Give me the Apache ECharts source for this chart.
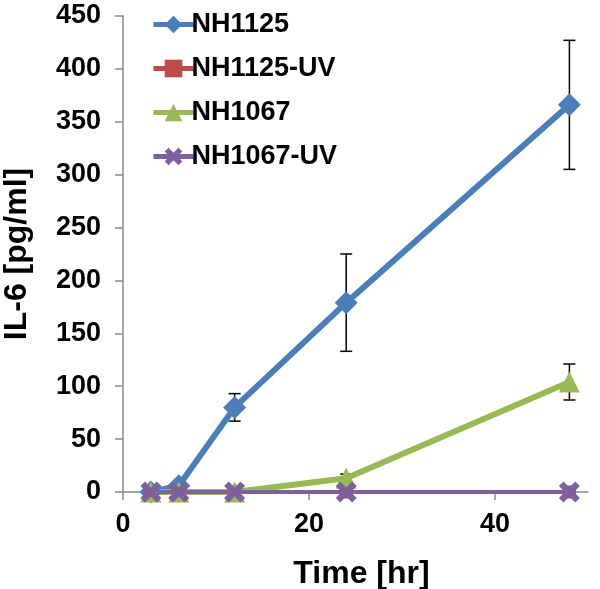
<!DOCTYPE html>
<html><head><meta charset="utf-8">
<script src="https://cdn.jsdelivr.net/npm/echarts@6/dist/echarts.min.js"></script>
<style>html,body{margin:0;padding:0;background:#fff}#c{width:600px;height:589px}</style>
</head><body><div id="c"></div>
<script>
const times = [3, 6, 12, 24, 48];
const nh1125 = [0, 6, 80, 179, 366];
const nh1125uv = [0, 0, 0, 0, 0];
const nh1067 = [0, 0, 0, 13, 104];
const nh1067uv = [0, 0, 0, 0, 0];
const nh1125Err = [0, 0, 13, 46, 61];
const nh1067Err = [0, 0, 0, 4, 17];
const seriesNames = ['NH1125', 'NH1125-UV', 'NH1067', 'NH1067-UV'];
const xTicks = [0, 20, 40];

const FONT = '"Liberation Sans", Arial, Helvetica, sans-serif';
const colors = ['#4A7EBB', '#BE4B48', '#98B954', '#7D60A0'];
const xPath = 'path://M0,2.2 L2.2,0 L5,2.8 L7.8,0 L10,2.2 L7.2,5 L10,7.8 L7.8,10 L5,7.2 L2.2,10 L0,7.8 L2.8,5 Z';

function pts(vals){ return times.map((t,i)=>[t, vals[i]]); }
function errData(vals, errs){
  const out = [];
  times.forEach((t,i)=>{ if (errs[i] > 0) out.push([t, vals[i]-errs[i], vals[i]+errs[i]]); });
  return out;
}
function errSeries(vals, errs){
  return {
    type: 'custom', z: 1, silent: true,
    data: errData(vals, errs),
    renderItem: function(params, api){
      const x = api.value(0);
      const a = api.coord([x, api.value(1)]);
      const b = api.coord([x, api.value(2)]);
      const w = 6;
      const st = {stroke: '#000', lineWidth: 1.5};
      return {type: 'group', children: [
        {type:'line', shape:{x1:a[0], y1:a[1], x2:b[0], y2:b[1]}, style: st},
        {type:'line', shape:{x1:a[0]-w, y1:a[1], x2:a[0]+w, y2:a[1]}, style: st},
        {type:'line', shape:{x1:b[0]-w, y1:b[1], x2:b[0]+w, y2:b[1]}, style: st}
      ]};
    }
  };
}
function lineSeries(name, vals, color, symbol, size, width){
  return {
    name: name, type: 'line', z: 3, data: pts(vals),
    symbol: symbol, symbolSize: size, showAllSymbol: true,
    lineStyle: {color: color, width: width},
    itemStyle: {color: color, borderWidth: 0},
    emphasis: {disabled: true}, animation: false
  };
}

const chart = echarts.init(document.getElementById('c'), null, {renderer: 'canvas'});
chart.setOption({
  animation: false,
  backgroundColor: '#fff',
  grid: {left: 123, right: 12, top: 16, bottom: 97, containLabel: false, outerBoundsMode: 'none'},
  legend: {
    orient: 'vertical', left: 146, top: 6,
    itemWidth: 40, itemHeight: 22, itemGap: 17,
    data: seriesNames,
    lineStyle: {width: 5},
    textStyle: {fontFamily: FONT, fontWeight: 'bold', fontSize: 27, color: '#000', lineHeight: 22, padding: [0,0,0,-7]}
  },
  xAxis: {
    type: 'value', min: 0, max: 50,
    name: 'Time [hr]', nameLocation: 'middle', nameGap: 66,
    nameTextStyle: {fontFamily: FONT, fontWeight: 'bold', fontSize: 32, color: '#000', padding: [0,0,0,12]},
    axisLine: {lineStyle: {color: '#888', width: 1.5}},
    axisTick: {show: true, inside: false, length: 8, lineStyle: {color: '#888', width: 1.5}, customValues: xTicks},
    axisLabel: {customValues: xTicks, margin: 19, fontFamily: FONT, fontWeight: 'bold', fontSize: 27, color: '#000'},
    splitLine: {show: false}
  },
  yAxis: {
    type: 'value', min: 0, max: 450, interval: 50,
    name: 'IL-6 [pg/ml]', nameLocation: 'middle', nameGap: 90,
    nameTextStyle: {fontFamily: FONT, fontWeight: 'bold', fontSize: 32, color: '#000'},
    axisLine: {show: true, lineStyle: {color: '#888', width: 1.5}},
    axisTick: {show: true, inside: false, length: 8, lineStyle: {color: '#888', width: 1.5}},
    axisLabel: {margin: 22, fontFamily: FONT, fontWeight: 'bold', fontSize: 27, color: '#000'},
    splitLine: {show: false}
  },
  series: [
    errSeries(nh1125, nh1125Err),
    errSeries(nh1067, nh1067Err),
    lineSeries(seriesNames[0], nh1125, colors[0], 'diamond', 23, 6),
    lineSeries(seriesNames[1], nh1125uv, colors[1], 'rect', 13, 4),
    lineSeries(seriesNames[2], nh1067, colors[2], 'triangle', 21, 6),
    lineSeries(seriesNames[3], nh1067uv, colors[3], xPath, 21, 4)
  ]
});
</script></body></html>
